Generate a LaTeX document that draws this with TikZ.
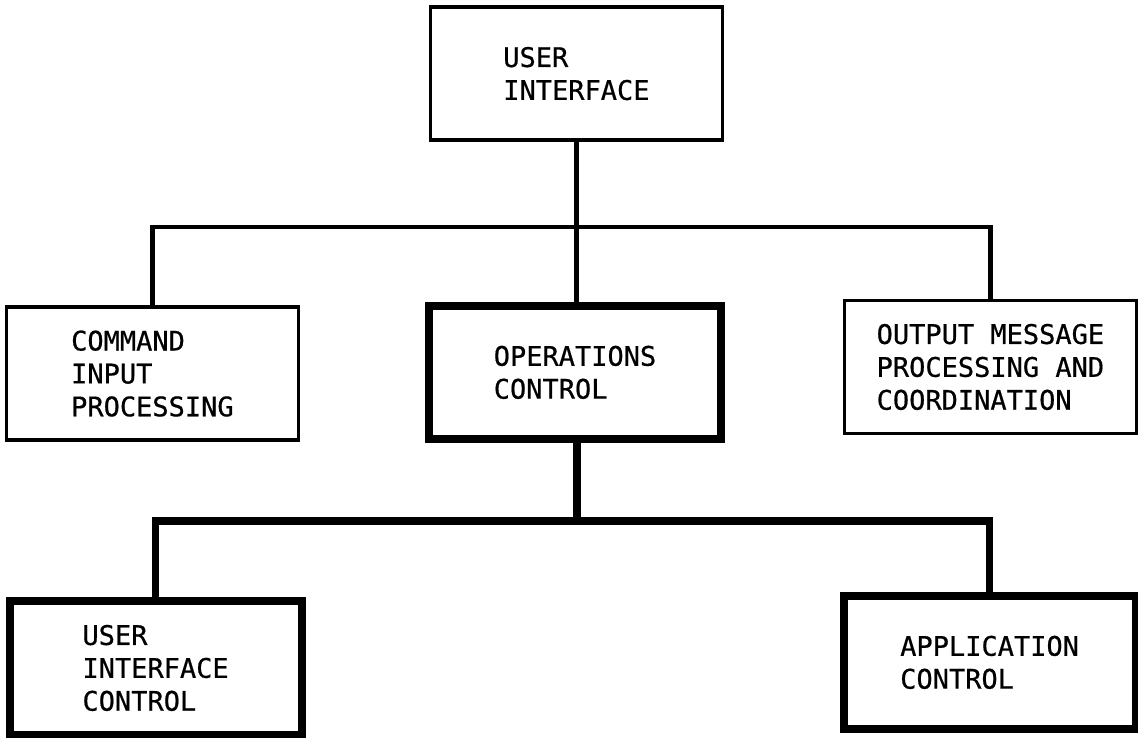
\documentclass[tikz,border=0pt]{standalone}
\usepackage{fontspec}
\newfontfamily\boxfont[FakeBold=0.6]{DejaVu Sans Mono}
\begin{document}
\begin{tikzpicture}[
  module/.style={draw, line width=2.6pt, minimum width=7.3cm, minimum height=3.33cm,
                 align=left, font=\boxfont\fontsize{19.2}{23.4}\selectfont},
  mainmodule/.style={module, line width=5.6pt},
  upperlink/.style={line width=3.4pt},
  lowerlink/.style={line width=5pt}
]
\useasboundingbox (0,0) rectangle (28.45,18.45);

\node[module]     (ui)     at (14.41,16.61) {USER\\INTERFACE};
\node[module]     (cmdin)  at (3.81,9.11)   {COMMAND\\INPUT\\PROCESSING};
\node[mainmodule] (opctl)  at (14.375,9.14) {OPERATIONS\\CONTROL};
\node[module]     (outmsg) at (24.76,9.275) {OUTPUT MESSAGE\\PROCESSING AND\\COORDINATION};
\node[mainmodule] (uictl)  at (3.89,1.75)   {USER\\INTERFACE\\CONTROL};
\node[mainmodule] (appctl) at (24.74,1.89)  {APPLICATION\\CONTROL};

\coordinate (upperbus) at (14.425,12.775);
\coordinate (lowerbus) at (14.425,5.425);

\draw[upperlink] (ui.south) -- (opctl.north -| ui.south);
\draw[upperlink] (cmdin.north) |- (upperbus) -| (outmsg.north);
\draw[lowerlink] (opctl.south -| lowerbus) -- (lowerbus);
\draw[lowerlink] (uictl.north) |- (lowerbus) -| (appctl.north);
\end{tikzpicture}
\end{document}
